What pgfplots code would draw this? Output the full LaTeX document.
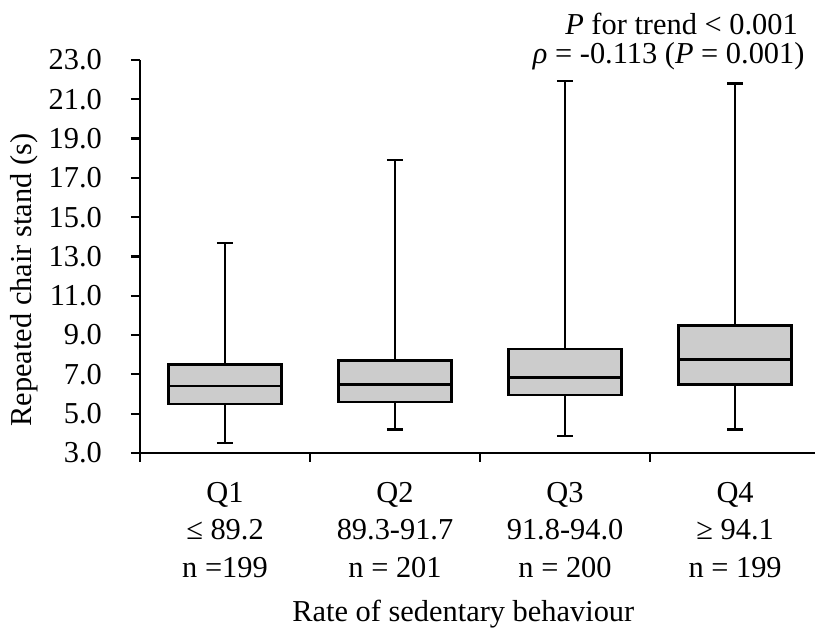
\documentclass[border=0pt]{standalone}
\usepackage{fontspec}
\setmainfont{Liberation Serif}
\usepackage{pgfplots}
\pgfplotsset{compat=1.18}
\usepgfplotslibrary{statistics}

\begin{document}
\begin{tikzpicture}
\useasboundingbox (-70pt,-88.5pt) rectangle (337.5pt,226.5pt);
\begin{axis}[
  scale only axis,
  width=337.5pt, height=196.5pt,
  at={(0,0)}, anchor=south west,
  axis lines*=left,
  axis line style={line width=1.1pt},
  xmin=0.5, xmax=4.47,
  ymin=3, ymax=23,
  ytick={3,5,...,23},
  yticklabel={\pgfmathprintnumber[fixed,fixed zerofill,precision=1]{\tick}},
  /pgf/number format/assume math mode=true,
  xtick={0.5,1.5,2.5,3.5},
  xticklabels={},
  extra x ticks={1,2,3,4},
  extra x tick labels={{Q1\\≤ 89.2\\n =199},{Q2\\89.3-91.7\\n = 201},{Q3\\91.8-94.0\\n = 200},{Q4\\≥ 94.1\\n = 199}},
  extra x tick style={major tick length=0pt},
  xticklabel style={align=center, font=\fontsize{15.2}{18.9}\selectfont, yshift=-11pt},
  yticklabel style={font=\fontsize{15.2}{17}\selectfont, xshift=-11pt},
  tick align=outside,
  major tick length=4.5pt,
  tick style={line width=1.1pt, black},
  xlabel={Rate of sedentary behaviour},
  ylabel={Repeated chair stand (s)},
  label style={font=\fontsize{15.2}{17}\selectfont},
  xlabel style={at={(axis description cs:0.479,0)}, anchor=base, yshift=-84.5pt},
  ylabel style={at={(axis description cs:-0.171,0.44)}, anchor=center, rotate=0},
  clip=false,
  boxplot/draw direction=y,
  boxplot/box extend=0.665,
  boxplot/whisker extend=0.095,
  boxplot/every box/.style={draw=black, fill=black!20, line width=1.3pt},
  boxplot/every whisker/.style={black, line width=1.1pt},
  boxplot/every median/.style={black, line width=1.3pt},
]
\addplot+[mark=none, solid, black, boxplot prepared={lower whisker=3.5, lower quartile=5.5, median=6.4, upper quartile=7.5, upper whisker=13.7, draw position=1}] coordinates {};
\addplot+[mark=none, solid, black, boxplot prepared={lower whisker=4.2, lower quartile=5.6, median=6.5, upper quartile=7.7, upper whisker=17.9, draw position=2}] coordinates {};
\addplot+[mark=none, solid, black, boxplot prepared={lower whisker=3.85, lower quartile=5.95, median=6.85, upper quartile=8.3, upper whisker=21.95, draw position=3}] coordinates {};
\addplot+[mark=none, solid, black, boxplot prepared={lower whisker=4.2, lower quartile=6.5, median=7.75, upper quartile=9.5, upper whisker=21.8, draw position=4}] coordinates {};
\node[anchor=base east, font=\fontsize{15.2}{17}\selectfont, inner sep=0pt] at (axis description cs:0.975,1.066) {\textit{P} for trend < 0.001};
\node[anchor=base east, font=\fontsize{15.2}{17}\selectfont, inner sep=0pt] at (axis description cs:0.985,0.992) {\textit{ρ} = -0.113 (\textit{P} = 0.001)};
\end{axis}
\end{tikzpicture}
\end{document}
